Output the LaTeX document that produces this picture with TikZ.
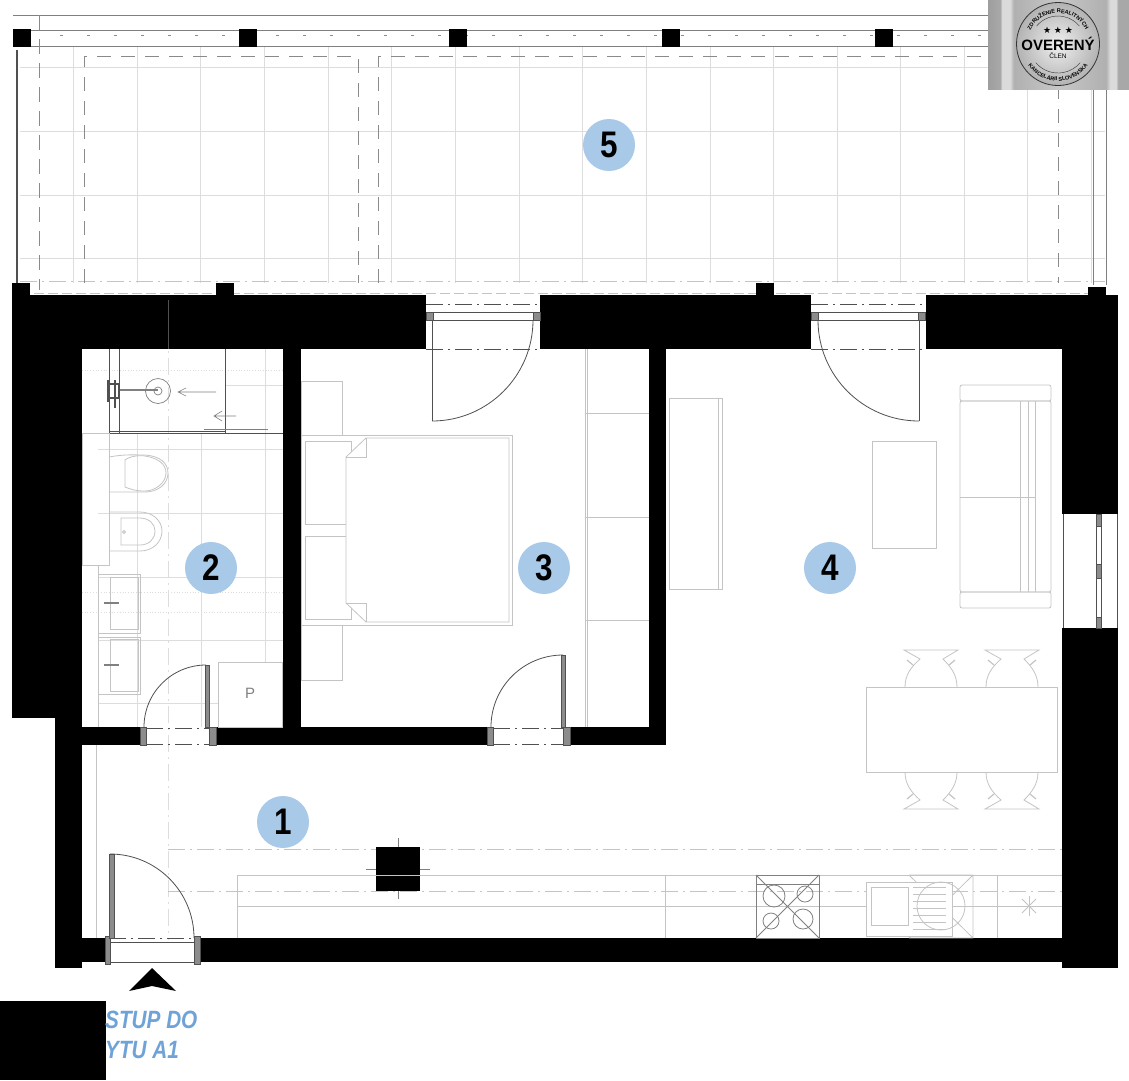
\documentclass[tikz,border=0pt]{standalone}
\usepackage{fontspec}
\setmainfont{Liberation Sans}
\newfontfamily\starfont{DejaVu Sans}
\usetikzlibrary{decorations.text}
\definecolor{roomblue}{HTML}{A9C9E8}
\definecolor{labelblue}{HTML}{6FA3D8}
\definecolor{jambgray}{HTML}{8C8C8C}
\definecolor{furn}{HTML}{C4C4C4}
\definecolor{tile}{HTML}{DDDDDD}
\definecolor{doorline}{HTML}{505050}
\definecolor{terr}{HTML}{8A8A8A}
\pgfdeclarehorizontalshading{sealband}{100bp}{color(0bp)=(black!38);color(25bp)=(black!38);color(29.3bp)=(black!34);color(30bp)=(black!14);color(32.8bp)=(black!14);color(34.2bp)=(black!31);color(49.8bp)=(black!22);color(66.8bp)=(black!31);color(68.3bp)=(black!14);color(70.4bp)=(black!14);color(71.1bp)=(black!34);color(75bp)=(black!34);color(100bp)=(black!34)}
\begin{document}
\begin{tikzpicture}[x=1pt,y=-1pt,
        room/.style={circle,fill=roomblue,minimum size=52pt,inner sep=0pt,font=\bfseries\fontsize{37}{37}\selectfont},
        wall/.style={fill=black,draw=none},
        jamb/.style={fill=jambgray,draw=doorline,line width=.4pt},
        doorarc/.style={draw=doorline,line width=.8pt},
        furniture/.style={draw=furn,line width=.8pt},
        grid/.style={draw=tile,line width=.7pt},
        axis/.style={draw=doorline,line width=.6pt,dash pattern=on 17pt off 5pt on 2pt off 5pt},
        faint/.style={draw=tile,line width=.7pt,dash pattern=on 17pt off 5pt on 2pt off 5pt},
        seal/.style={inner sep=0pt,font=\bfseries\fontsize{15}{15}\selectfont}]
        \useasboundingbox (0,0) rectangle (1129,1080);
        \fill[white] (0,0) rectangle (1129,1080);
        % terrace
        \foreach \gx in {73,137,200,264,328,391,455,519,582,646,710,773,837,900,964,1027,1091}
                \draw[grid] (\gx,46) -- (\gx,283);
        \foreach \gy in {67,131,195,258}
                \draw[grid] (20,\gy) -- (1105,\gy);
        \draw[draw=gray,line width=.8pt] (13,15) -- (1000,15);
        \draw[draw=gray,line width=.8pt] (13,30) -- (1000,30);
        \draw[draw=gray,line width=.8pt] (13,46) -- (1000,46);
        \draw[draw=terr,line width=.6pt,dash pattern=on 3pt off 24pt] (60,35) -- (990,35);
        \draw[draw=terr,line width=.7pt,dash pattern=on 15pt off 9pt] (39,15) -- (39,290);
        \draw[faint,draw=furn] (20,281) -- (1105,281);
        \draw[draw=furn,line width=.7pt,dash pattern=on 10pt off 4pt] (20,293) -- (1105,293);
        \draw[draw=terr,line width=.7pt,dash pattern=on 14pt off 10pt] (84,283) -- (84,56) -- (358,56) -- (358,283);
        \draw[draw=terr,line width=.7pt,dash pattern=on 14pt off 10pt] (378,283) -- (378,56) -- (1058,56) -- (1058,283);
        \draw[draw=doorline,line width=1.6pt] (17,50) -- (17,283);
        \draw[draw=gray,line width=.8pt] (1093,90) -- (1093,285);
        \draw[draw=gray,line width=.8pt] (1106,90) -- (1106,285);
        \foreach \cx in {13,239,449,662,875}
                \fill[wall] (\cx,29) rectangle +(18,18);
        \foreach \cx in {12,216,756}
                \fill[wall] (\cx,283) rectangle +(18,15);
        \fill[wall] (1088,287) rectangle (1106,296);
        % bathroom floor
        \foreach \gx in {137,201}
                \draw[grid] (\gx,433) -- (\gx,727);
        \draw[grid] (265,349) -- (265,662);
        \draw[grid] (225,385) -- (283,385);
        \foreach \gy in {449,513,577,640,703}
                \draw[grid] (98,\gy) -- (283,\gy);
        \foreach \gy in {370,592,612}
                \draw[tile,dotted,line width=.7pt] (82,\gy) -- (283,\gy);
        % hall axes
        \draw[faint] (168,300) -- (168,940);
        \draw[faint,draw=furn] (168,849) -- (1100,849);
        \draw[faint,draw=furn] (168,891) -- (1100,891);
        % walls
        \fill[wall] (12,295) rectangle (426,349);
        \fill[wall] (540,295) rectangle (811,349);
        \fill[wall] (926,295) rectangle (1118,349);
        \fill[wall] (12,349) rectangle (82,718);
        \fill[wall] (55,718) rectangle (82,968);
        \fill[wall] (1062,349) rectangle (1118,514);
        \fill[wall] (1062,628) rectangle (1118,968);
        \fill[wall] (283,349) rectangle (301,745);
        \fill[wall] (649,349) rectangle (666,745);
        \fill[wall] (82,727) rectangle (140,745);
        \fill[wall] (216,727) rectangle (487,745);
        \fill[wall] (570,727) rectangle (666,745);
        \fill[wall] (82,938) rectangle (105,962);
        \fill[wall] (198,938) rectangle (1062,962);
        \fill[wall] (376,847) rectangle (420,891);
        \draw[draw=gray,line width=.6pt] (398,838) -- (398,847) (398,891) -- (398,899) (366,869) -- (376,869) (420,869) -- (430,869);
        \draw[draw=doorline,line width=.5pt] (168,300) -- (168,349);
        % shower and bathroom
        \draw[draw=doorline,line width=.8pt] (109,349) -- (109,433) (119,349) -- (119,433) (225,349) -- (225,433);
        \draw[draw=doorline,line width=.8pt] (82,433) -- (283,433);
        \draw[draw=doorline,line width=1pt] (109,431) -- (225,431);
        \draw[draw=gray,line width=1pt] (204,429) -- (268,429);
        \draw[draw=gray,line width=.7pt] (158,391) circle (12.5pt) (158,391) circle (4pt);
        \draw[draw=gray,line width=1.2pt] (120,390) -- (158,390);
        \draw[draw=doorline,line width=1.4pt] (108,384) -- (119,384) -- (119,398) -- (108,398) (108,380) -- (108,402) (115,380) -- (115,408);
        \draw[draw=gray,line width=.6pt] (216,392) -- (178,392) (186,388) -- (178,392) -- (186,396);
        \draw[draw=gray,line width=.6pt] (236,416) -- (214,416) (222,411) -- (214,416) -- (222,421);
        \draw[furniture] (82,433) rectangle (109,565);
        \draw[furniture] (98,565) -- (98,727);
        \draw[furniture] (109,457) .. controls (125,454) and (135,455) .. (145,455) .. controls (160,456) and (168,463) .. (168,473) .. controls (168,484) and (158,492) .. (145,492) -- (109,492);
        \draw[furniture] (125,460) .. controls (130,456) and (140,455) .. (145,456) .. controls (158,458) and (166,464) .. (166,473) .. controls (166,483) and (155,491) .. (145,491) .. controls (135,491) and (130,489) .. (125,487) -- cycle;
        \draw[furniture] (109,512) -- (140,512) .. controls (153,512) and (162,521) .. (162,531) .. controls (162,542) and (153,551) .. (140,551) -- (109,551);
        \draw[furniture] (121,518) -- (140,518) .. controls (149,518) and (155,524) .. (155,531) .. controls (155,539) and (149,545) .. (140,545) -- (121,545) -- cycle;
        \draw[furniture] (124,532) circle (1.5pt);
        \draw[furniture] (98,574) rectangle (140,633);
        \draw[furniture] (98,637) rectangle (140,694);
        \draw[furniture] (110,577) rectangle (138,629);
        \draw[furniture] (110,639) rectangle (138,691);
        \draw[draw=gray,line width=1.4pt] (104,603) -- (119,603) (104,665) -- (119,665);
        \draw[furniture,fill=white] (218,662) rectangle (282,727);
        \node[inner sep=0pt,text=gray,font=\fontsize{15}{15}\selectfont] (pbox) at (250,693) {P};
        % bedroom
        \draw[furniture] (301,381) rectangle (342,435);
        \draw[furniture] (301,625) rectangle (342,680);
        \draw[furniture] (301,435) rectangle (512,625);
        \draw[furniture] (305,441) rectangle (351,524);
        \draw[furniture] (305,536) rectangle (351,619);
        \draw[furniture,fill=white] (346,457) -- (366,438) -- (509,438) -- (509,622) -- (366,622) -- (346,603) -- cycle;
        \draw[furniture] (346,457) -- (366,457) -- (366,438);
        \draw[furniture] (346,603) -- (366,603) -- (366,622);
        \draw[furniture] (585,349) -- (585,727) (587,349) -- (587,727);
        \foreach \wy in {413,517,620}
                \draw[furniture] (585,\wy) -- (649,\wy);
        % living room
        \draw[furniture] (669,398) rectangle (722,589);
        \draw[furniture] (718,398) -- (718,589);
        \draw[furniture] (872,441) rectangle (936,548);
        \draw[furniture,rounded corners=2pt] (960,385) rectangle (1051,401);
        \draw[furniture,rounded corners=2pt] (960,401) rectangle (1051,592);
        \draw[furniture,rounded corners=2pt] (960,592) rectangle (1051,608);
        \draw[furniture] (1020,401) -- (1020,592) (1028,401) -- (1028,592) (1035,401) -- (1035,592);
        \draw[furniture] (960,497) -- (1035,497);
        \draw[furniture] (866,687) rectangle (1057,772);
        \foreach \cx in {931,1012}
                \foreach \ey/\sy in {687/1,772/-1}{
                        \begin{scope}[shift={(\cx,\ey)},yscale=\sy]
                                \draw[furniture] (-26,0) .. controls (-26,-12) and (-20,-20) .. (-11,-28) -- (-27,-37) -- (27,-37) -- (12,-28) .. controls (20,-20) and (26,-12) .. (26,0);
                                \draw[furniture,line width=1.2pt] (-24,-27) -- (-18,-22) (24,-27) -- (18,-22);
                        \end{scope}
                }
        % kitchen
        \draw[furniture] (237,938) -- (237,875) -- (1062,875);
        \draw[furniture] (237,906) -- (1062,906);
        \draw[furniture] (665,875) -- (665,938) (997,875) -- (997,938);
        \draw[furniture,draw=gray] (756,875) rectangle (819,938) (756,884) -- (819,884);
        \draw[furniture,draw=gray] (756,875) -- (819,938) (819,875) -- (756,938);
        \foreach \bx/\by/\br in {774/896/11,805/894/8,771/921/8,803/919/10}
                \draw[furniture,draw=gray] (\bx,\by) circle (\br pt);
        \draw[furniture] (909,875) -- (973,875) -- (973,938) -- (909,938) (909,875) -- (973,938) (973,875) -- (909,938);
        \draw[furniture,fill=white] (866,882) rectangle (952,936);
        \draw[furniture] (871,887) rectangle (908,925);
        \foreach \ly in {887,894,901,908,915,922,929}
                \draw[furniture] (913,\ly) -- (946,\ly);
        \draw[furniture] (941,906) circle (24pt);
        \foreach \sa in {0,45,90,135}
                \draw[furniture,shift={(1029,906)},rotate=\sa] (-10pt,0pt) -- (10pt,0pt);
        \draw[furniture] (96,745) -- (96,938);
        % doors
        \draw[axis] (426,304) -- (540,304);
        \draw[axis] (426,349) -- (540,349);
        \draw[axis] (811,304) -- (926,304);
        \draw[axis] (811,349) -- (926,349);
        \foreach \dx/\ex in {426/533,811/918}{
                \fill[jamb] (\dx,312) rectangle +(7,8);
                \fill[jamb] (\ex,312) rectangle +(7,8);
                \draw[doorarc] (\dx+7,312) -- (\ex,312) (\dx+7,320) -- (\ex,320);
        }
        \draw[doorarc] (432,320) -- (432,421);
        \draw[doorarc] (533,320) arc[start angle=0,end angle=-90,radius=101pt];
        \draw[doorarc] (919,320) -- (919,421);
        \draw[doorarc] (919,421) arc[start angle=270,end angle=180,radius=101pt];
        \foreach \dx/\ex in {140/209,487/563}{
                \draw[axis] (\dx+6,728) -- (\ex,728);
                \draw[axis] (\dx+6,744) -- (\ex,744);
                \fill[jamb] (\dx,727) rectangle +(6,18);
                \fill[jamb] (\ex,727) rectangle +(7,18);
        }
        \fill[jamb] (205,665) rectangle (209,727);
        \draw[doorarc] (206,665) arc[start angle=90,end angle=180,radius=62pt];
        \fill[jamb] (561,655) rectangle (565,727);
        \draw[doorarc] (563,655) arc[start angle=90,end angle=180,radius=72pt];
        \draw[axis] (109,938) -- (194,938);
        \draw[doorarc] (109,942) -- (194,942) (109,962) -- (194,962);
        \fill[jamb] (105,936) rectangle (110,964);
        \fill[jamb] (194,936) rectangle (200,964);
        \fill[jamb] (109,854) rectangle (114,938);
        \draw[doorarc] (110,854) arc[start angle=90,end angle=0,radius=84pt];
        % window
        \draw[draw=doorline,line width=.7pt] (1063,514) -- (1063,628) (1117,514) -- (1117,628);
        \draw[draw=doorline,line width=.5pt] (1096,514) -- (1096,628) (1101,514) -- (1101,628);
        \foreach \wa/\wb in {514/526,564/578,617/628}
                \fill[jamb] (1096,\wa) rectangle (1101,\wb);
        % entrance
        \fill[black] (152,968) -- (176,991) -- (152,986) -- (129,991) -- cycle;
        \fill[black] (0,1001) rectangle (106,1080);
        \node[anchor=west,inner sep=0pt,xscale=.83,text=labelblue,font=\bfseries\itshape\fontsize{25}{25}\selectfont] (entrya) at (105,1020) {STUP DO};
        \node[anchor=west,inner sep=0pt,xscale=.83,text=labelblue,font=\bfseries\itshape\fontsize{25}{25}\selectfont] (entryb) at (105,1050) {YTU A1};
        % room numbers
        \node[room] (r1) at (283,822) {\scalebox{.85}[1]{1}};
        \node[room] (r2) at (211,568) {\scalebox{.85}[1]{2}};
        \node[room] (r3) at (544,568) {\scalebox{.85}[1]{3}};
        \node[room] (r4) at (830,568) {\scalebox{.85}[1]{4}};
        \node[room] (r5) at (609,145) {\scalebox{.85}[1]{5}};
        % seal
        \shade[shading=sealband] (988,0) rectangle (1129,89);
        \shade[inner color=black!6,outer color=black!30,draw=black!80,line width=.8pt] (1058,44) circle (41.5pt);
        \draw[black!80,line width=.4pt] (1058,44) ++(140:28pt) arc[start angle=140,end angle=40,radius=28pt];
        \draw[black!80,line width=.4pt] (1058,44) ++(220:29pt) arc[start angle=220,end angle=320,radius=29pt];
        \path[decorate,decoration={text along path,text align=center,text={|\bfseries\fontsize{5.5}{5.5}\selectfont|ZDRUŽENIE REALITNÝCH}}] (1058,44) ++(170:31pt) arc[start angle=170,end angle=10,radius=31pt];
        \path[decorate,decoration={text along path,text align=center,text={|\bfseries\fontsize{5.5}{5.5}\selectfont|KANCELÁRII SLOVENSKA}}] (1058,44) ++(190:37pt) arc[start angle=190,end angle=350,radius=37pt];
        \node[inner sep=0pt,font=\starfont\fontsize{9}{9}\selectfont] (stars) at (1058,30) {★ ★ ★};
        \node[seal] (overeny) at (1058,44) {OVERENÝ};
        \node[inner sep=0pt,font=\fontsize{6.5}{6.5}\selectfont] (clen) at (1058,56) {ČLEN};
\end{tikzpicture}
\end{document}
